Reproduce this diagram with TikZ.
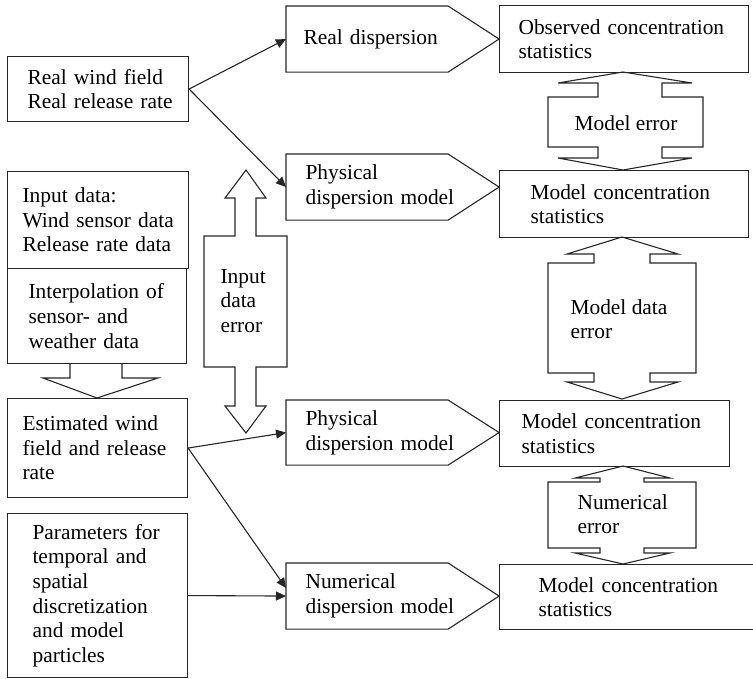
\documentclass[tikz,border=0pt]{standalone}
\usepackage{fontspec}
\setmainfont{Liberation Serif}
\usetikzlibrary{arrows.meta,calc}

\newcommand{\figfont}{\fontsize{21.4}{24.6}\selectfont\hyphenpenalty=10000\exhyphenpenalty=10000\relax}

\tikzset{
  box/.style={draw, anchor=north west, align=left, inner ysep=0pt, font=\figfont},
  pentbox/.style={anchor=north west, align=left, inner ysep=0pt, font=\figfont},
  errtext/.style={anchor=west, align=left, inner sep=0pt, font=\figfont},
  flow/.style={-{Triangle[length=10pt,width=9pt]}},
}

\begin{document}
\begin{tikzpicture}[x=1pt,y=-1pt,line width=1.1pt,draw=black!85]
\useasboundingbox (0,0) rectangle (753,678);

% left column
\node[box, minimum width=181pt, minimum height=65pt, inner xsep=20pt, text width=141pt] (realwind) at (7,56) {Real~wind~field\\Real~release~rate};
\node[box, minimum width=181pt, minimum height=97pt, inner xsep=15pt, text width=151pt] (inputdata) at (7,171) {Input~data:\\Wind~sensor~data\\Release~rate~data};
\node[box, minimum width=179pt, minimum height=95pt, inner xsep=21pt, text width=137pt] (interp) at (7,268) {Interpolation~of\\sensor-~and\\weather~data};
\node[box, minimum width=180pt, minimum height=99pt, inner xsep=15pt, text width=150pt] (estimated) at (7,398) {Estimated~wind\\field~and~release\\rate};
\node[box, minimum width=180pt, minimum height=164pt, inner xsep=25pt, text width=130pt] (params) at (7,513) {Parameters~for\\temporal~and\\spatial\\discretization\\and~model\\particles};

% dispersion models
\node[pentbox, minimum width=212pt, minimum height=65pt, inner xsep=17pt, text width=178pt] (realdisp) at (286,6) {Real dispersion};
\node[pentbox, minimum width=212pt, minimum height=65pt, inner xsep=19pt, text width=174pt] (physA) at (286,154) {Physical\\dispersion model};
\node[pentbox, minimum width=212pt, minimum height=64pt, inner xsep=19pt, text width=174pt] (physB) at (286,400) {Physical\\dispersion model};
\node[pentbox, minimum width=212pt, minimum height=65pt, inner xsep=19pt, text width=174pt] (numer) at (286,563) {Numerical\\dispersion model};
\foreach \n in {realdisp,physA,physB,numer}
  \draw (\n.north west) -- ($(\n.north east)+(-51,0)$) -- (\n.east) -- ($(\n.south east)+(-51,0)$) -- (\n.south west) -- cycle;

% statistics
\node[box, minimum width=249pt, minimum height=67pt, inner xsep=19pt, text width=211pt] (observed) at (499,5) {Observed~concentration\\statistics};
\node[box, minimum width=249pt, minimum height=67pt, inner xsep=31pt, text width=187pt] (concA) at (499,170) {Model~concentration\\statistics};
\node[box, minimum width=230pt, minimum height=66pt, inner xsep=22pt, text width=186pt] (concB) at (499,400) {Model~concentration\\statistics};
\node[box, minimum width=262pt, minimum height=65pt, inner xsep=39pt, text width=184pt] (concC) at (499,564) {Model~concentration\\statistics};

% block arrows
\draw (70,363) -- (70,378) -- (43,378) -- (97,398) -- (158,378) -- (122,378) -- (122,363);
\draw (246,170) -- (266,198) -- (256,198) -- (256,236) -- (287,236) -- (287,367) -- (256,367) -- (256,406) -- (266,406) -- (246,433)
  -- (225,406) -- (235,406) -- (235,367) -- (204,367) -- (204,236) -- (235,236) -- (235,198) -- (225,198) -- cycle;
\draw (623,72) -- (692,83) -- (662,83) -- (662,97) -- (703,97) -- (703,147) -- (662,147) -- (662,158) -- (692,158) -- (623,170)
  -- (558,158) -- (598,158) -- (598,147) -- (548,147) -- (548,97) -- (598,97) -- (598,83) -- (558,83) -- cycle;
\draw (622,237) -- (678,254) -- (650,254) -- (650,263) -- (696,263) -- (696,373) -- (650,373) -- (650,382) -- (678,382) -- (622,399)
  -- (567,382) -- (594,382) -- (594,373) -- (548,373) -- (548,263) -- (594,263) -- (594,254) -- (567,254) -- cycle;
\draw (623,466) -- (670,478) -- (644,478) -- (644,482) -- (696,482) -- (696,548) -- (644,548) -- (644,553) -- (670,553) -- (623,564)
  -- (575,553) -- (600,553) -- (600,548) -- (548,548) -- (548,482) -- (600,482) -- (600,478) -- (575,478) -- cycle;

\node[errtext, anchor=center] (modelerr) at (626,123) {Model error};
\node[errtext] (modeldataerr) at (570,319) {Model data\\error};
\node[errtext] (numerr) at (577,514) {Numerical\\error};
\node[errtext] (inputerr) at (220,301) {Input\\data\\error};

% connectors
\draw[flow] (realwind.east) -- (realdisp.west);
\draw[flow] (realwind.east) -- (physA.west);
\draw[flow] (estimated.east) -- (physB.west);
\draw[flow] (estimated.east) -- ([yshift=8pt]numer.west);
\draw[flow] (params.east) -- (numer.west);
\end{tikzpicture}
\end{document}
